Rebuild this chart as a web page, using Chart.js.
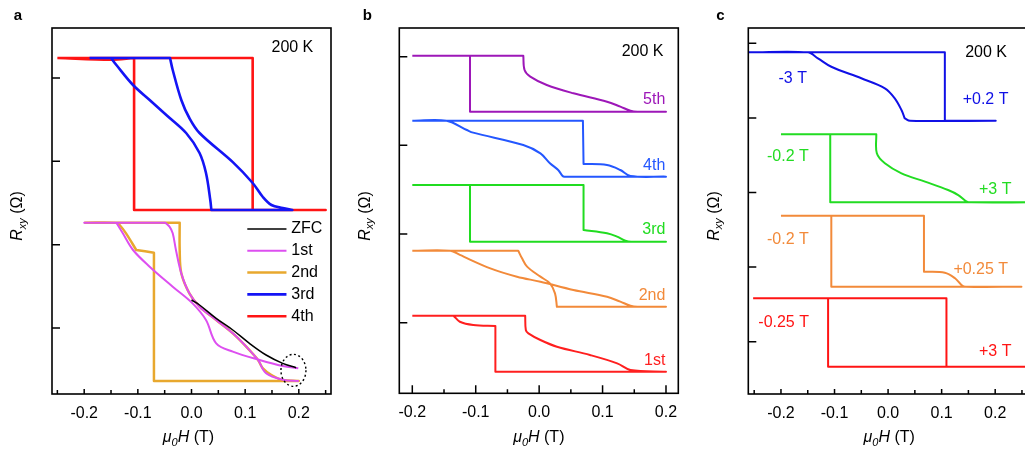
<!DOCTYPE html>
<html>
<head>
<meta charset="utf-8">
<script src="https://cdn.jsdelivr.net/npm/chart.js@4.4.1/dist/chart.umd.min.js"></script>
<style>
html, body { margin: 0; padding: 0; background: #fff; overflow: hidden; width: 1025px; height: 457px; }
canvas { position: absolute; top: 0; }
</style>
</head>
<body>
<canvas id="ca" width="345" height="457" style="left:0px"></canvas>
<canvas id="cb" width="345" height="457" style="left:345px"></canvas>
<canvas id="cc" width="340" height="457" style="left:690px"></canvas>
<script>
// tick labels shared by the three panels
const xTickVals = [-0.2, -0.1, 0, 0.1, 0.2];

// panel a: field sweeps, arbitrary Rxy units
const aSeries = ['ZFC', '1st', '2nd', '3rd', '4th'];
const aZFC = [[0,1.336],[0.015,1.276],[0.046,1.116],[0.077,0.976],[0.108,0.816],[0.139,0.676],[0.17,0.576],[0.195,0.524]];
const a1st = [[0.199,0.516],[0.17,0.544],[0.127,0.616],[0.077,0.716],[0.046,0.816],[0.027,1.096],[0.002,1.296],[-0.035,1.496],[-0.078,1.736],[-0.109,1.936],[-0.128,2.136],[-0.14,2.264],[-0.2,2.264],
  [-0.049,2.264],[-0.041,2.216],[-0.035,2.136],[-0.029,1.936],[-0.019,1.656],[-0.004,1.416],[0.015,1.256],[0.046,1.096],[0.077,0.936],[0.102,0.776],[0.124,0.616],[0.139,0.456],[0.17,0.38],[0.2,0.364]];
const a2nd = [[-0.2,2.264],[-0.022,2.264],[-0.022,1.936],[-0.019,1.656],[-0.004,1.416],[0.015,1.256],[0.046,1.096],[0.077,0.936],[0.102,0.776],[0.124,0.616],[0.133,0.516],[0.149,0.436],[0.17,0.376],[0.2,0.364],
  [-0.07,0.364],[-0.07,1.904],[-0.103,1.936],[-0.122,2.136],[-0.134,2.236],[-0.14,2.264],[-0.2,2.264]];
const a3rd = [[-0.19,4.24],[-0.15,4.24],[-0.14,4.156],[-0.109,3.916],[-0.078,3.736],[-0.047,3.556],[-0.01,3.34],[0.015,3.1],[0.027,2.86],[0.035,2.536],[0.037,2.416],[0.188,2.416],
  [0.17,2.44],[0.149,2.476],[0.133,2.572],[0.114,2.74],[0.077,2.99],[0.015,3.34],[-0.004,3.52],[-0.019,3.736],[-0.035,4.096],[-0.04,4.24],[-0.19,4.24]];
const a4th = [[-0.25,4.24],[0.114,4.24],[0.114,2.416],[0.25,2.416],[-0.107,2.416],[-0.107,4.24],[-0.15,4.22],[-0.25,4.24]];
const aYTicks = [1, 2, 3, 4];

// panel b: repeated loops, offset vertically
const bSeries = ['1st', '2nd', '3rd', '4th', '5th'];
const b1st = [[-0.2,1.079],[-0.135,1.079],[-0.125,1.011],[-0.104,0.974],[-0.069,0.963],[-0.069,0.447],[0.2,0.447],[0.144,0.467],[0.123,0.542],[0.08,0.636],[0.028,0.729],[0.002,0.805],[-0.017,0.88],[-0.021,0.918],[-0.022,1.079],[-0.2,1.079]];
const b2nd = [[-0.2,1.812],[-0.14,1.812],[-0.125,1.764],[-0.077,1.613],[-0.035,1.519],[0.002,1.462],[0.054,1.369],[0.107,1.293],[0.128,1.237],[0.144,1.192],[0.155,1.18],[0.2,1.18],
  [0.028,1.18],[0.025,1.331],[0.017,1.444],[0.002,1.519],[-0.019,1.632],[-0.027,1.726],[-0.033,1.812],[-0.2,1.812]];
const b3rd = [[-0.2,2.553],[0.07,2.553],[0.07,2.045],[0.107,2.008],[0.123,1.97],[0.136,1.925],[0.145,1.913],[0.2,1.913],[-0.109,1.913],[-0.109,2.553],[-0.2,2.553]];
const b4th = [[-0.2,3.278],[-0.146,3.278],[-0.114,3.173],[-0.104,3.143],[-0.025,3.004],[0.002,2.91],[0.017,2.798],[0.03,2.722],[0.037,2.654],[0.04,2.647],[0.2,2.647],
  [0.144,2.654],[0.128,2.722],[0.107,2.778],[0.07,2.79],[0.069,3.278],[-0.2,3.278]];
const b5th = [[-0.2,4.011],[-0.025,4.011],[-0.023,3.85],[-0.014,3.774],[0.012,3.68],[0.054,3.587],[0.107,3.492],[0.128,3.436],[0.144,3.391],[0.155,3.38],[0.2,3.38],[-0.109,3.38],[-0.109,4.011],[-0.2,4.011]];
const bYTicks = [1, 2, 3, 4];

// panel c: minor loops between start and turning fields
const cStart = ['-3 T', '-0.2 T', '-0.2 T', '-0.25 T'];
const cTurn = ['+0.2 T', '+3 T', '+0.25 T', '+3 T'];
const cBlue = [[-0.26,4.879],[-0.15,4.879],[-0.131,4.799],[-0.106,4.686],[-0.05,4.531],[-0.006,4.397],[0.0125,4.263],[0.025,4.106],[0.031,3.995],[0.041,3.962],[0.201,3.962],[0.106,3.962],[0.106,4.879],[-0.26,4.879]];
const cGreen = [[-0.2,3.78],[-0.022,3.78],[-0.021,3.525],[-0.006,3.391],[0.025,3.257],[0.069,3.145],[0.112,3.033],[0.131,2.966],[0.147,2.877],[0.155,2.868],[0.27,2.868],[-0.108,2.868],[-0.108,3.78],[-0.2,3.78]];
const cOrange = [[-0.2,2.689],[0.067,2.689],[0.067,1.938],[0.106,1.925],[0.125,1.85],[0.137,1.761],[0.145,1.737],[0.249,1.737],[-0.106,1.737],[-0.106,2.689],[-0.2,2.689]];
const cRed = [[-0.252,1.582],[0.109,1.582],[0.109,0.665],[0.27,0.665],[-0.112,0.665],[-0.112,1.582],[-0.252,1.582]];
const cYTicks = [1, 2, 3, 4, 5];

const FONT = '"Liberation Sans", Arial, Helvetica, sans-serif';

// sharp turns get a doubled point so the spline keeps the corner square
function toXY(arr) {
  const out = [];
  arr.forEach(([x, y], i) => {
    out.push({ x, y });
    if (i === 0 || i === arr.length - 1) return;
    const ax = (x - arr[i - 1][0]) * 6.5, ay = y - arr[i - 1][1];
    const bx = (arr[i + 1][0] - x) * 6.5, by = arr[i + 1][1] - y;
    const cos = (ax * bx + ay * by) / (Math.hypot(ax, ay) * Math.hypot(bx, by) || 1);
    if (cos < 0.75) out.push({ x, y });
  });
  return out;
}

function line(label, pts, color, width) {
  return { label, data: toXY(pts), borderColor: color, backgroundColor: color, borderWidth: width,
    showLine: true, pointRadius: 0, tension: 0.35, fill: false, borderJoinStyle: 'round' };
}

function drawRichText(ctx, parts, cx, cy) {
  // parts: [text, font, dy]
  let total = 0;
  parts.forEach(p => { ctx.font = p[1]; p.w = ctx.measureText(p[0]).width; total += p.w; });
  let x = cx - total / 2;
  ctx.textAlign = 'left';
  ctx.textBaseline = 'middle';
  parts.forEach(p => { ctx.font = p[1]; ctx.fillText(p[0], x, cy + p[2]); x += p.w; });
}

function decorPlugin(p) {
  return {
    id: 'decor',
    afterDatasetsDraw(chart) {
      const ctx = chart.ctx, a = chart.chartArea, xs = chart.scales.x, ys = chart.scales.y;
      ctx.save();
      ctx.strokeStyle = '#000';
      ctx.lineWidth = 1.6;
      ctx.strokeRect(a.left, a.top, a.right - a.left, a.bottom - a.top);
      // inward ticks
      ctx.lineWidth = 1.5;
      ctx.beginPath();
      for (let k = -6; k <= 6; k++) {
        const v = k * 0.05;
        if (v < xs.min || v > xs.max) continue;
        const px = xs.getPixelForValue(v);
        const len = k % 2 === 0 ? p.majorLen : p.minorLen;
        ctx.moveTo(px, a.bottom);
        ctx.lineTo(px, a.bottom - len);
      }
      p.yTicks.forEach(v => {
        const py = ys.getPixelForValue(v);
        ctx.moveTo(a.left, py);
        ctx.lineTo(a.left + 8, py);
      });
      ctx.stroke();

      ctx.fillStyle = '#000';
      // panel letter
      ctx.font = 'bold 15px ' + FONT;
      ctx.textAlign = 'center';
      ctx.textBaseline = 'middle';
      ctx.fillText(p.letter, a.left - p.letterDx, 16);
      // x title
      drawRichText(ctx, [['\u03bc', 'italic 16px ' + FONT, 0], ['0', 'italic 11px ' + FONT, 5],
        ['H', 'italic 16px ' + FONT, 0], [' (T)', '16px ' + FONT, 0]], (a.left + a.right) / 2 - p.titleShift, 438);
      // y title
      ctx.save();
      ctx.translate(a.left - 34, 216);
      ctx.rotate(-Math.PI / 2);
      drawRichText(ctx, [['R', 'italic 16px ' + FONT, 0], ['xy', 'italic 11px ' + FONT, 5],
        [' (\u03a9)', '16px ' + FONT, 0]], 0, 0);
      ctx.restore();

      // text notes in data coordinates
      p.notes.forEach(n => {
        ctx.font = '16px ' + FONT;
        ctx.fillStyle = n.color;
        ctx.textAlign = n.align;
        ctx.textBaseline = 'middle';
        ctx.fillText(n.text, xs.getPixelForValue(n.x), ys.getPixelForValue(n.y));
      });
      if (p.extra) p.extra(chart, ctx, xs, ys);
      ctx.restore();
    }
  };
}

function makeChart(id, datasets, xr, yr, pad, xHeight, plug) {
  return new Chart(document.getElementById(id), {
    type: 'scatter',
    data: { datasets },
    options: {
      responsive: false,
      animation: false,
      devicePixelRatio: 1,
      layout: { padding: pad },
      plugins: { legend: { display: false }, tooltip: { enabled: false } },
      scales: {
        x: {
          type: 'linear', position: 'bottom', min: xr[0], max: xr[1],
          grid: { display: false, drawTicks: false },
          border: { display: false },
          afterBuildTicks: s => { s.ticks = xTickVals.map(v => ({ value: v })); },
          afterFit: s => { s.height = xHeight; },
          ticks: { color: '#000', font: { family: FONT, size: 16 }, padding: 10, maxRotation: 0, autoSkip: false,
            callback: v => Number(v).toFixed(1) }
        },
        y: { type: 'linear', display: false, min: yr[0], max: yr[1] }
      }
    },
    plugins: [decorPlugin(plug)]
  });
}

// ---- panel a ----
const aColors = ['#000000', '#dd4ff0', '#e8a82e', '#1414f5', '#ff1414'];
const aWidths = [1.5, 2, 2.5, 2.6, 2.6];
const aData = [aZFC, a1st, a2nd, a3rd, a4th];
makeChart('ca', aData.map((d, i) => line(aSeries[i], d, aColors[i], aWidths[i])),
  [-0.26, 0.26], [0.208, 4.6], { left: 52, top: 28, right: 14, bottom: 0 }, 63,
  { letter: 'a', letterDx: 34, titleShift: 3, majorLen: 5, minorLen: 4, yTicks: aYTicks,
    notes: [{ text: '200 K', x: 0.227, y: 4.36, color: '#000', align: 'right' }],
    extra: (chart, ctx, xs, ys) => {
      // legend
      chart.data.datasets.forEach((ds, i) => {
        const py = ys.getPixelForValue(2.188) + i * 21.8;
        ctx.strokeStyle = ds.borderColor;
        ctx.lineWidth = ds.borderWidth;
        ctx.beginPath();
        ctx.moveTo(xs.getPixelForValue(0.104), py);
        ctx.lineTo(xs.getPixelForValue(0.177), py);
        ctx.stroke();
        ctx.fillStyle = '#000';
        ctx.font = '16px ' + FONT;
        ctx.textAlign = 'left';
        ctx.fillText(ds.label, xs.getPixelForValue(0.186), py);
      });
      // dotted ellipse around the end points
      ctx.strokeStyle = '#000';
      ctx.lineWidth = 1.4;
      ctx.setLineDash([2, 2.5]);
      ctx.beginPath();
      ctx.ellipse(xs.getPixelForValue(0.19), ys.getPixelForValue(0.492), 12.5, 16, 0, 0, Math.PI * 2);
      ctx.stroke();
      ctx.setLineDash([]);
    } });

// ---- panel b ----
const bColors = ['#ff1f1f', '#f28a3a', '#20dc20', '#2457ff', '#9d17b8'];
const bData = [b1st, b2nd, b3rd, b4th, b5th];
const bLabelY = [0.568, 1.301, 2.045, 2.771, 3.512];
makeChart('cb', bData.map((d, i) => line(bSeries[i], d, bColors[i], 2)),
  [-0.2205, 0.2194], [0.204, 4.323], { left: 54.3, top: 28, right: 11.7, bottom: 0 }, 63.7,
  { letter: 'b', letterDx: 32, titleShift: 0, majorLen: 8, minorLen: 4, yTicks: bYTicks,
    notes: [{ text: '200 K', x: 0.196, y: 4.053, color: '#000', align: 'right' }]
      .concat(bSeries.map((s, i) => ({ text: s, x: 0.199, y: bLabelY[i], color: bColors[i], align: 'right' }))) });

// ---- panel c ----
const cColors = ['#1010e6', '#22dc22', '#f28a3a', '#ff1414'];
const cData = [cBlue, cGreen, cOrange, cRed];
const cStartPos = [[-0.178, 4.521], [-0.187, 3.48], [-0.187, 2.363], [-0.195, 1.255]];
const cTurnPos = [[0.182, 4.24], [0.2, 3.033], [0.173, 1.961], [0.2, 0.866]];
makeChart('cc', cData.map((d, i) => line(cStart[i] + ' / ' + cTurn[i], d, cColors[i], 2)),
  [-0.261, 0.265], [0.299, 5.205], { left: 58.3, top: 28, right: 0, bottom: 0 }, 63,
  { letter: 'c', letterDx: 28, titleShift: 0, majorLen: 5, minorLen: 4, yTicks: cYTicks,
    notes: [{ text: '200 K', x: 0.222, y: 4.879, color: '#000', align: 'right' }]
      .concat(cStart.map((s, i) => ({ text: s, x: cStartPos[i][0], y: cStartPos[i][1], color: cColors[i], align: 'center' })))
      .concat(cTurn.map((s, i) => ({ text: s, x: cTurnPos[i][0], y: cTurnPos[i][1], color: cColors[i], align: 'center' }))) });
</script>
</body>
</html>
